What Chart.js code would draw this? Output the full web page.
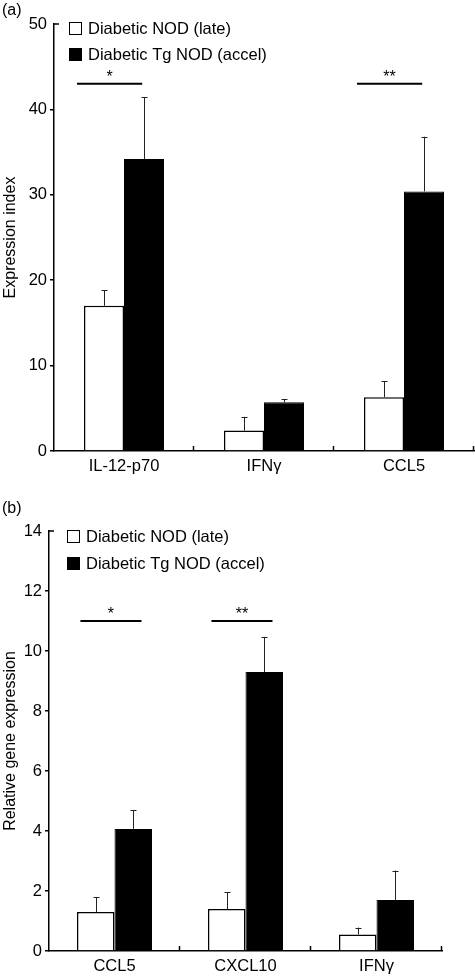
<!DOCTYPE html>
<html><head><meta charset="utf-8">
<script src="https://cdn.jsdelivr.net/npm/chart.js@4/dist/chart.umd.min.js"></script>
<style>
html,body{margin:0;padding:0;background:#fff;width:475px;height:979px;overflow:hidden;font-family:"Liberation Sans",Arial,Helvetica,sans-serif;}
.lbl{position:absolute;left:2px;font-size:16px;line-height:18px;color:#000;}
canvas{position:absolute;left:0;}
</style></head><body>
<canvas id="c1" width="475" height="480" style="top:0px"></canvas>
<canvas id="c2" width="475" height="499" style="top:480px"></canvas>
<div class="lbl" style="top:1px">(a)</div>
<div class="lbl" style="top:499px">(b)</div>
<script>
// ---------- DATA ----------
const seriesNames = ['Diabetic NOD (late)', 'Diabetic Tg NOD (accel)'];

// Panel (a)
const categoriesA = ['IL-12-p70', 'IFNγ', 'CCL5'];
const lateA = [17.0, 2.4, 6.3];
const lateErrA = [1.85, 1.6, 1.9];
const accelA = [34.2, 5.7, 30.4];
const accelErrA = [7.2, 0.4, 6.4];
const yTicksA = [0, 10, 20, 30, 40, 50];
const yTitleA = 'Expression index';
const sigA = [{cat: 0, y: 43, mark: '*'}, {cat: 2, y: 43, mark: '**'}];

// Panel (b)
const categoriesB = ['CCL5', 'CXCL10', 'IFNγ'];
const lateB = [1.3, 1.4, 0.55];
const lateErrB = [0.5, 0.56, 0.23];
const accelB = [4.07, 9.3, 1.7];
const accelErrB = [0.63, 1.17, 0.98];
const yTicksB = [0, 2, 4, 6, 8, 10, 12, 14];
const yTitleB = 'Relative gene expression';
const sigB = [{cat: 0, y: 11, mark: '*'}, {cat: 1, y: 11, mark: '**'}];

// ---------- RENDERING ----------
const FONT = '"Liberation Sans", Arial, Helvetica, sans-serif';

const panelPlugin = {
  id: 'panel',
  afterDatasetsDraw(chart, args, opts) {
    const ctx = chart.ctx, ca = chart.chartArea;
    const xs = chart.scales.x, ys = chart.scales.y;
    const n = chart.data.labels.length;
    const catW = (xs.right - xs.left) / n;
    ctx.save();
    // error bars (upper only)
    chart.data.datasets.forEach((ds, di) => {
      const meta = chart.getDatasetMeta(di);
      meta.data.forEach((bar, i) => {
        const top = ys.getPixelForValue(ds.data[i] + ds.errors[i]);
        const x = Math.round(bar.x) + 0.5;
        ctx.strokeStyle = '#222';
        ctx.lineWidth = 1;
        ctx.beginPath();
        ctx.moveTo(x, bar.y);
        ctx.lineTo(x, top);
        ctx.moveTo(x - 3, Math.round(top) + 0.5);
        ctx.lineTo(x + 3, Math.round(top) + 0.5);
        ctx.stroke();
      });
    });
    // significance markers
    (opts.sig || []).forEach(s => {
      const cx = xs.getPixelForValue(s.cat);
      const y = ys.getPixelForValue(s.y);
      ctx.strokeStyle = '#000';
      ctx.lineWidth = 2;
      ctx.beginPath();
      ctx.moveTo(cx + opts.sigFrom * catW, y);
      ctx.lineTo(cx + opts.sigTo * catW, y);
      ctx.stroke();
      ctx.fillStyle = '#000';
      ctx.font = '16px ' + FONT;
      ctx.textAlign = 'center';
      ctx.textBaseline = 'middle';
      ctx.fillText(s.mark, cx + (opts.sigFrom + opts.sigTo) / 2 * catW, y - 6);
    });
    // category boundary ticks (pointing up)
    ctx.strokeStyle = '#000';
    ctx.lineWidth = 1.5;
    ctx.beginPath();
    for (let i = 1; i <= n; i++) {
      const x = Math.round(xs.left + i * catW) - 0.5;
      ctx.moveTo(x, ca.bottom);
      ctx.lineTo(x, ca.bottom - 5);
    }
    // top stub of y axis
    ctx.moveTo(ca.left, ca.top);
    ctx.lineTo(ca.left + 5, ca.top);
    ctx.stroke();
    // legend
    ctx.font = '16.5px ' + FONT;
    ctx.textAlign = 'left';
    ctx.textBaseline = 'middle';
    chart.data.datasets.forEach((ds, di) => {
      const sx = ca.left + opts.legX, sy = ca.top + opts.legY + di * opts.legGap;
      ctx.fillStyle = ds.backgroundColor;
      ctx.fillRect(sx, sy, 13, 13);
      ctx.strokeStyle = '#000';
      ctx.lineWidth = 1;
      ctx.strokeRect(sx + 0.5, sy + 0.5, 12, 12);
      ctx.fillStyle = '#000';
      ctx.fillText(ds.label, sx + 19, sy + 7);
    });
    ctx.restore();
  }
};

function makeChart(id, cats, late, lateErr, accel, accelErr, yTicks, yTitle, sig, geo) {
  const ymax = yTicks[yTicks.length - 1];
  return new Chart(document.getElementById(id), {
    type: 'bar',
    data: {
      labels: cats,
      datasets: [
        {label: seriesNames[0], data: late, errors: lateErr, backgroundColor: '#ffffff', borderColor: '#000', borderWidth: 1.5},
        {label: seriesNames[1], data: accel, errors: accelErr, backgroundColor: '#000000', borderColor: '#000', borderWidth: 1}
      ]
    },
    options: {
      responsive: false,
      animation: false,
      devicePixelRatio: 1,
      events: [],
      layout: {padding: {top: geo.top, right: geo.right, left: 0, bottom: 0}},
      datasets: {bar: {barPercentage: 1, categoryPercentage: geo.catPct, borderSkipped: 'start'}},
      plugins: {
        legend: {display: false},
        tooltip: {enabled: false},
        panel: {sig: sig, sigFrom: geo.sigFrom, sigTo: geo.sigTo, legX: geo.legX, legY: geo.legY, legGap: geo.legGap}
      },
      scales: {
        x: {
          type: 'category',
          grid: {display: false, drawTicks: false},
          border: {display: true, color: '#000', width: 1.5},
          ticks: {color: '#000', font: {family: FONT, size: 16.5}, padding: geo.xPad, maxRotation: 0},
          afterFit: s => { s.height = geo.xH; }
        },
        y: {
          min: 0, max: ymax,
          afterBuildTicks: s => { s.ticks = yTicks.map(v => ({value: v})); },
          grid: {
            drawOnChartArea: false, drawTicks: true, tickLength: 4, lineWidth: 1.5,
            color: c => (c.tick && c.tick.value === ymax) ? 'rgba(0,0,0,0)' : '#000'
          },
          border: {display: true, color: '#000', width: 1.5},
          ticks: {color: '#000', font: {family: FONT, size: 16.5}, padding: 3},
          title: {display: true, text: yTitle, color: '#000', font: {family: FONT, size: 16}, padding: {top: 1, bottom: 0}},
          afterFit: s => { s.width = geo.yW; }
        }
      }
    },
    plugins: [panelPlugin]
  });
}

makeChart('c1', categoriesA, lateA, lateErrA, accelA, accelErrA, yTicksA, yTitleA, sigA,
  {top: 24, right: 1, catPct: 80 / 140, xH: 29, yW: 54, xPad: 6, sigFrom: -0.336, sigTo: 0.13, legX: 15, legY: -2, legGap: 26});
makeChart('c2', categoriesB, lateB, lateErrB, accelB, accelErrB, yTicksB, yTitleB, sigB,
  {top: 51, right: 33, catPct: 75 / 131, xH: 28, yW: 49, xPad: 6, sigFrom: -0.26, sigTo: 0.206, legX: 18, legY: -1, legGap: 27});
</script>
</body></html>
